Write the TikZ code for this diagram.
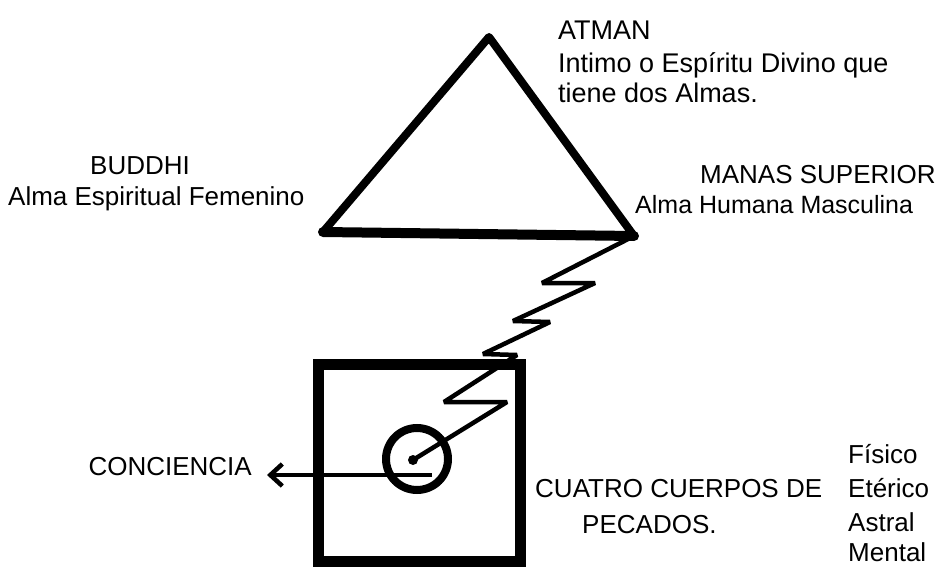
\documentclass[tikz,border=0pt]{standalone}
\usepackage{fontspec}
\setmainfont{Liberation Sans}
\usetikzlibrary{arrows.meta}
\begin{document}
\begin{tikzpicture}[x=1pt,y=-1pt,
  lbl/.style={anchor=base west,inner sep=0pt,font=\fontsize{26}{30}\selectfont},
  lblr/.style={lbl,anchor=base east},
  zig/.style={line width=4.5pt,line join=miter,miter limit=2.5}]
\useasboundingbox (0,0) rectangle (942,567);
\fill[white] (0,0) rectangle (942,567);
% triangle
\coordinate (apex) at (489,37);
\coordinate (bl) at (323,232);
\coordinate (br) at (634,236);
\draw[line width=8pt,line join=round] (apex) -- (bl) -- (br) -- cycle;
\draw[line width=10pt,line cap=round] (bl) -- (br);
% box of the four bodies
\node[draw,line width=11pt,minimum width=202pt,minimum height=197pt,inner sep=0pt] (cuerpos) at (419,462.5) {};
% circle
\node[draw,circle,line width=8pt,minimum size=62pt,inner sep=0pt] (alma) at (417,459) {};
\coordinate (centre) at (413,460);
% zigzag from the soul to the circle
\draw[zig] (br) -- (542,283) -- (595,283) -- (513,321) -- (550,322) -- (483,354)
  -- (517,355) -- (444,402) -- (507,402) -- (centre);
\fill (centre) circle (5);
% arrow to CONCIENCIA
\coordinate (arrstart) at (432,475);
\coordinate (arrtip) at (267,475);
\draw[line width=4.5pt,-{Straight Barb[length=12pt,width=22pt]}] (arrstart) -- (arrtip);
% texts
\node[lbl,font=\fontsize{27}{30}\selectfont] (atman) at (558,40) {ATMAN};
\node[lbl,font=\fontsize{27}{30}\selectfont] (atmanb) at (558,73) {Intimo o Espíritu Divino que};
\node[lbl,font=\fontsize{27}{30}\selectfont] (atmanc) at (558,103) {tiene dos Almas.};
\node[lbl] (buddhi) at (90,175) {BUDDHI};
\node[lbl] (buddhib) at (8,205) {Alma Espiritual Femenino};
\node[lbl] (manas) at (700,183) {MANAS SUPERIOR};
\node[lbl,font=\fontsize{25}{30}\selectfont] (manasb) at (635,213) {Alma Humana Masculina};
\node[lblr] (conc) at (252,475) {CONCIENCIA};
\node[lbl] (cuatro) at (535,497) {CUATRO CUERPOS DE};
\node[lbl] (pecados) at (582,533) {PECADOS.};
\node[lbl] (fisico) at (848,463) {Físico};
\node[lbl] (eterico) at (848,497) {Etérico};
\node[lbl] (astral) at (848,531) {Astral};
\node[lbl] (mental) at (848,561) {Mental};
\end{tikzpicture}
\end{document}
